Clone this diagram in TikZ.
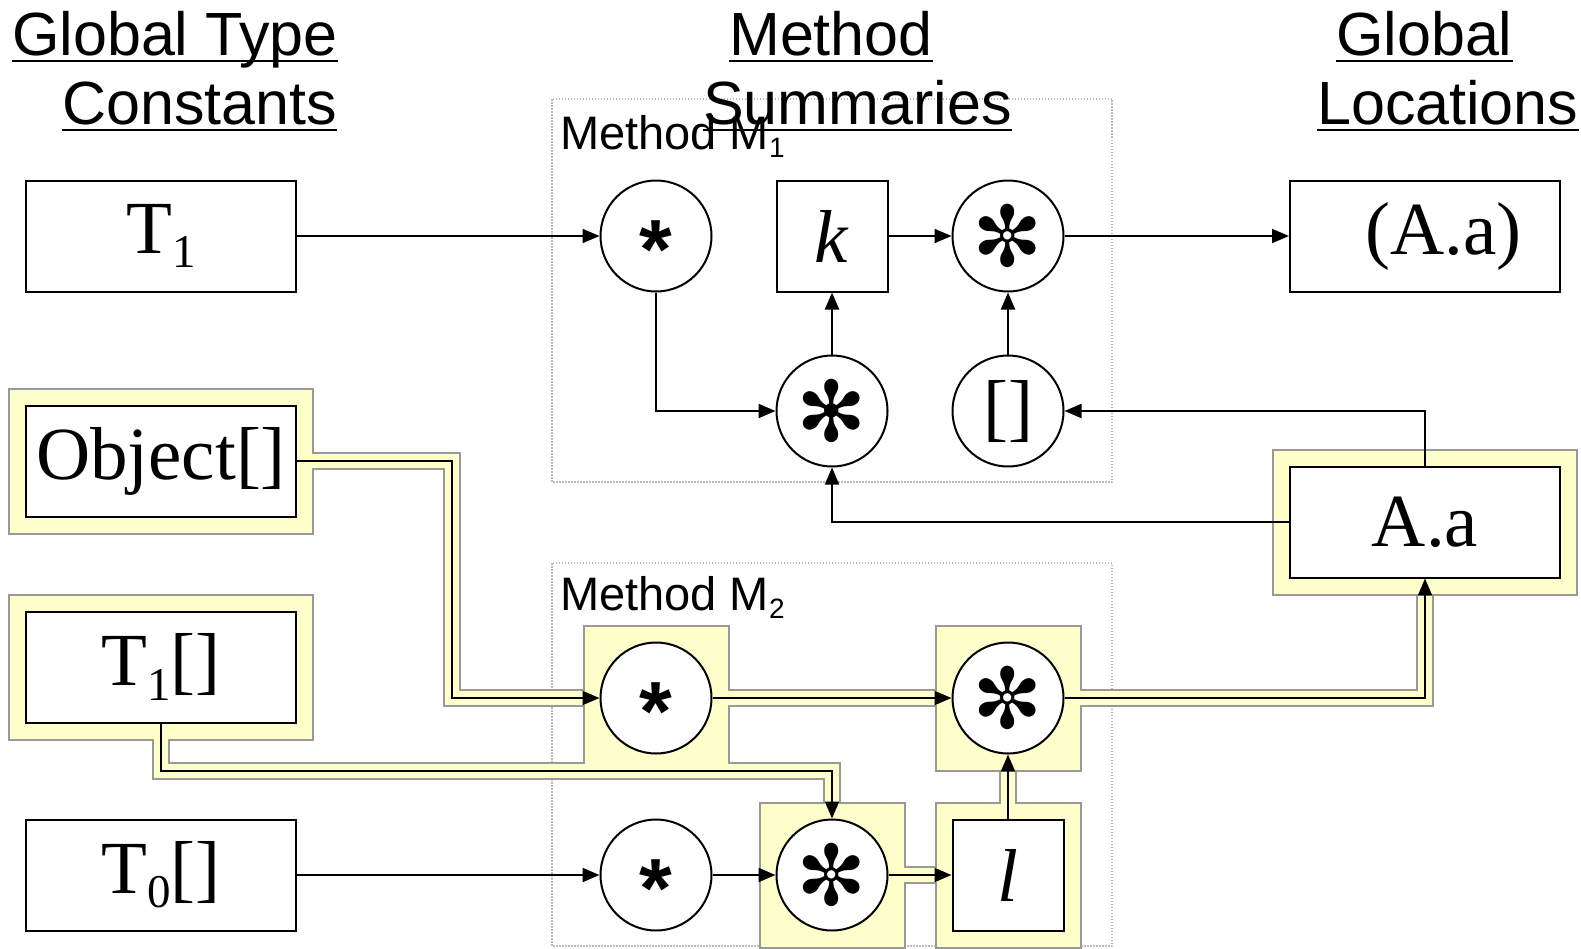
\documentclass[tikz,border=0pt]{standalone}
\usepackage{fontspec}
\setmainfont{Liberation Serif}
\newfontfamily\arialfont{Liberation Sans}
\newfontfamily\dingfont{DejaVu Sans}
\usetikzlibrary{calc, positioning, arrows.meta}
\definecolor{hlyellow}{HTML}{FFFFCC}
\definecolor{hlgray}{HTML}{999999}
\definecolor{boxgray}{HTML}{BBBBBB}
\pgfdeclarelayer{hlout}
\pgfdeclarelayer{hlin}
\pgfsetlayers{hlout,hlin,main}
\newcommand{\lsub}[2][47]{{\fontsize{#1}{#1}\selectfont\raisebox{-0.3em}{#2}}}

\begin{document}
\begin{tikzpicture}[
x=1pt, y=-1pt,
>={Triangle[length=17pt,width=14pt]},
box/.style = {% type constants and locations
    draw, line width=2pt, fill=white, inner sep=0pt,
    minimum width=270pt, minimum height=111pt,
    font=\fontsize{75}{80}\selectfont,
             },
sq/.style = {box, minimum width=111pt},
op/.style = {draw, circle, line width=2pt, fill=white, inner sep=0pt, minimum size=111pt},
star/.style = {op, font=\arialfont\bfseries\fontsize{84}{84}\selectfont},
flower/.style = {op, font=\dingfont\fontsize{84}{84}\selectfont},
brk/.style = {op, font=\fontsize{75}{80}\selectfont},
hdr/.style = {anchor=base west, inner sep=0pt, font=\arialfont\fontsize{61}{62}\selectfont},
mlabel/.style = {anchor=base west, inner sep=0pt, font=\arialfont\fontsize{47}{48}\selectfont},
mbox/.style = {draw=boxgray, line width=1.5pt, dash pattern=on 1.5pt off 1.5pt},
uline/.style = {line width=2.5pt},
conn/.style = {->, line width=2pt},
                    ]
\useasboundingbox (0,0) rectangle (1581,948);
% headers
\node[hdr] (ha) at (12,55) {Global Type};
\node[hdr] (hb) at (62,124) {Constants};
\node[hdr] (hc) at (729,55) {Method};
\node[hdr] (hd) at (703,124) {Summaries};
\node[hdr] (he) at (1336,55) {Global};
\node[hdr] (hf) at (1317,124) {Locations};
\foreach \h in {ha,hb,hc,hd,he,hf}
    {\draw[uline] ([yshift=-6pt]\h.base west) -- ([yshift=-6pt]\h.base east);}
% method boxes
\begin{pgfonlayer}{hlout}
\draw[mbox] (552,99) rectangle (1112,482);
\draw[mbox] (552,563) rectangle (1112,946);
\end{pgfonlayer}
\node[mlabel] (mone) at (560,149) {Method M\lsub[28]{1}};
\node[mlabel] (mtwo) at (560,610) {Method M\lsub[28]{2}};
% global type constants
\node[box] (tone) at (161,236) {T\lsub{1}};
\node[box] (objarr) at (161,461) {Object[]};
\node[box] (tonearr) at (161,667) {T\lsub{1}[]};
\node[box] (tzeroarr) at (161,875) {T\lsub{0}[]};
% global locations
\node[box] (locpar) at (1425,236) {\hspace*{0.5em}(A.a)};
\node[box] (locaa) at (1425,522) {A.a};
% method M1
\node[star] (mstar) at (656,236) {\smash{\raisebox{-0.5em}{*}}};
\node[sq] (mk) at (832,236) {\textit{k}};
\node[flower] (mflr) at (1008,236) {✼};
\node[flower] (mfla) at (832,411) {✻};
\node[brk] (mbrk) at (1008,411) {[]};
% method M2
\node[star] (nstar) at (656,698) {\smash{\raisebox{-0.5em}{*}}};
\node[flower] (nflr) at (1008,698) {✼};
\node[star] (nstarb) at (656,875) {\smash{\raisebox{-0.5em}{*}}};
\node[flower] (nflb) at (832,875) {✼};
\node[sq] (nl) at (1008,875) {\textit{l}};
\coordinate (objbend) at (452,698);
\coordinate (tbend) at (832,771);
% highlighted flow
\foreach \lay/\col/\w/\m in {hlout/hlgray/18/17, hlin/hlyellow/14/15}{
\begin{pgfonlayer}{\lay}
\foreach \n in {objarr,tonearr,locaa,nstar,nflr,nflb,nl}
    {\fill[\col] ($(\n.west |- \n.north)+(-\m,-\m)$) rectangle ($(\n.east |- \n.south)+(\m,\m)$);}
\draw[\col, line width=\w pt] (objarr.east) -| (objbend) -- (nstar.west);
\draw[\col, line width=\w pt] (nstar) -- (nflr);
\draw[\col, line width=\w pt] (nflr.east) -| (locaa.south);
\draw[\col, line width=\w pt] (tonearr.south) |- (tbend) -- (nflb.north);
\draw[\col, line width=\w pt] (nflb) -- (nl);
\draw[\col, line width=\w pt] (nl) -- (nflr);
\end{pgfonlayer}
}
% connectors
\draw[conn] (tone) -- (mstar);
\draw[conn] (mstar.south) |- (mfla.west);
\draw[conn] (mfla) -- (mk);
\draw[conn] (mk) -- (mflr);
\draw[conn] (mbrk) -- (mflr);
\draw[conn] (mflr) -- (locpar);
\draw[conn] (locaa.north) |- (mbrk.east);
\draw[conn] (locaa.west) -| (mfla.south);
\draw[conn] (objarr.east) -| (objbend) -- (nstar.west);
\draw[conn] (nstar) -- (nflr);
\draw[conn] (nflr.east) -| (locaa.south);
\draw[conn] (tonearr.south) |- (tbend) -- (nflb.north);
\draw[conn] (tzeroarr) -- (nstarb);
\draw[conn] (nstarb) -- (nflb);
\draw[conn] (nflb) -- (nl);
\draw[conn] (nl) -- (nflr);
\end{tikzpicture}
\end{document}
